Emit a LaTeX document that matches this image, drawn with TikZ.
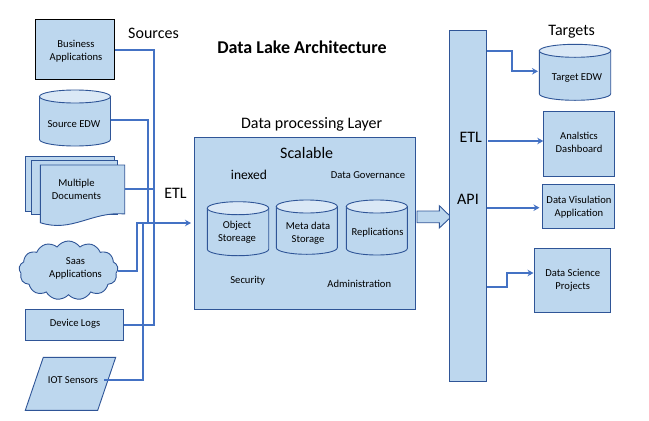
\documentclass[tikz,border=0pt]{standalone}
\usepackage{fontspec}
\setmainfont{Carlito}
\usetikzlibrary{shapes.symbols,arrows.meta}

\definecolor{boxfill}{RGB}{189,215,238}
\definecolor{boxtop}{RGB}{218,232,246}
\definecolor{boxline}{RGB}{47,85,151}
\definecolor{linkblue}{RGB}{68,114,196}

\tikzset{
	plainbox/.style={draw=boxline,fill=boxfill,line width=0.9pt,inner sep=0pt,outer sep=0pt},
	small/.style={font=\fontsize{10.6}{13}\selectfont,align=center,inner sep=0pt,yshift=-0.8pt},
	big/.style={font=\fontsize{16}{18}\selectfont,align=center,inner sep=0pt},
	link/.style={draw=linkblue,line width=2pt},
	linkto/.style={link,-{Stealth[length=6pt,width=6.5pt]}}
}

% left, right, top, bottom
\newcommand{\drawdrum}[4]{
	\pgfmathsetmacro{\drumrx}{(#2-#1)/2}
	\draw[plainbox] (#1,{#3+6.5}) -- (#1,{#4-6.5})
		arc[start angle=180,end angle=360,x radius=\drumrx pt,y radius=6.5pt] -- (#2,{#3+6.5}) -- cycle;
	\draw[plainbox,fill=boxtop] ({(#1+#2)/2},{#3+6.5}) ellipse[x radius=\drumrx pt,y radius=6.5pt];
}

\begin{document}
\begin{tikzpicture}[x=1pt,y=-1pt]
	\useasboundingbox (0,0) rectangle (649,421);
	\fill[white] (0,0) rectangle (649,421);

	\node[big,font=\fontsize{18}{20}\selectfont\bfseries] (title) at (302,47) {Data Lake Architecture};
	\node[big] (sources) at (153.5,33) {Sources};
	\node[big] (etlleft) at (175.5,193) {ETL};
	\node[big] (targets) at (571.7,31.5) {Targets};
	\node[big] (layertitle) at (311.7,124.5) {Data processing Layer};

	% sources
	\node[plainbox,draw=black,minimum width=79pt,minimum height=60pt] (bizapp) at (75,49.5) {};
	\node[small] (bizapptext) at (76,50) {Business\\Applications};

	\drawdrum{39.5}{110.5}{90}{146}
	\node[small] (srcedwtext) at (74,123.5) {Source EDW};

	\draw[plainbox] (25.3,211) |- (114.7,156.3) |- cycle;
	\draw[plainbox] (31,214) |- (117.7,160.3) |- cycle;
	\draw[plainbox] (40.3,222.7) |- (124.7,165) -- (124.7,214)
		.. controls (92,211) and (72,233) .. cycle;
	\node[small] (docstext) at (76.5,189) {Multiple\\Documents};

	\node[plainbox,cloud,cloud puffs=13,cloud puff arc=110,aspect=1.7,cloud ignores aspect,
		minimum width=99pt,minimum height=59pt] (saas) at (68.5,270.5) {};
	\node[small] (saastext) at (75.5,268) {Saas\\Applications};

	\node[plainbox,minimum width=98.4pt,minimum height=31pt] (devlogs) at (74.5,324.8) {};
	\node[small] (devlogstext) at (75,322.7) {Device Logs};

	\draw[plainbox] (43.3,357.3) -- (115.7,357.3) -- (97.7,410.3) -- (25.3,410.3) -- cycle;
	\node[small] (iottext) at (73,379.7) {IOT Sensors};

	\coordinate (docsout) at (124.7,189);
	\coordinate (srcout) at (110.5,120);
	\coordinate (iotout) at (104,379.7);
	\coordinate (busx) at (154,223);
	\coordinate (srcx) at (147.7,223);
	\coordinate (iotx) at (143,223);
	\coordinate (saasx) at (136.7,223);
	\coordinate (layerin) at (191,223);

	\draw[link] (bizapp.east) -| (busx |- devlogs.east) -- (devlogs.east);
	\draw[link] (docsout) -- (docsout -| busx);
	\draw[link] (srcout) -| (srcx);
	\draw[link] (iotout) -| (iotx);
	\draw[linkto] (saas.east) -| (saasx) -- (layerin);

	% data processing layer
	\node[plainbox,minimum width=221pt,minimum height=171.6pt] (layer) at (305,223.5) {};
	\node[big] (scalable) at (306.7,153.3) {Scalable};
	\node[small,font=\fontsize{13.5}{15}\selectfont] (inexed) at (249,174) {inexed};
	\node[small] (governance) at (368,174.5) {Data Governance};

	\drawdrum{207.3}{268.7}{201.7}{255.7}
	\drawdrum{276.3}{337.3}{200}{254.3}
	\drawdrum{346.3}{407.3}{200}{255}
	\node[small] (objtext) at (237,231.5) {Object\\Storeage};
	\node[small] (metatext) at (308,232.2) {Meta data\\Storage};
	\node[small] (replicatext) at (377.5,231.7) {Replications};

	\node[small] (security) at (247.7,279.7) {Security};
	\node[small] (admin) at (359.3,282.7) {Administration};

	\draw[plainbox] (417,211) -- (439.3,211) -- (439.3,205.7) -- (451,217)
		-- (439.3,228) -- (439.3,222.7) -- (417,222.7) -- cycle;

	% etl and api bar
	\node[plainbox,minimum width=37.4pt,minimum height=350.6pt] (bar) at (468,206) {};
	\node[big] (etlright) at (470.7,137) {ETL};
	\node[big] (api) at (468,199) {API};

	% targets
	\drawdrum{539.3}{610.7}{44.3}{100.3}
	\node[small] (tgtedwtext) at (577,77.5) {Target EDW};

	\node[plainbox,minimum width=71.4pt,minimum height=65pt] (dash) at (579,143.8) {};
	\node[small] (dashtext) at (579,141.2) {Analstics\\Dashboard};

	\node[plainbox,minimum width=72.4pt,minimum height=44pt] (visual) at (578.5,206.3) {};
	\node[small] (visualtext) at (579,206.2) {Data Visulation\\Application};

	\node[plainbox,minimum width=76.4pt,minimum height=64pt] (science) at (572.5,280.3) {};
	\node[small] (sciencetext) at (572.7,279.2) {Data Science\\Projects};

	\coordinate (tgtx) at (511.7,51);
	\coordinate (scix) at (506.7,287);
	\coordinate (tgtin) at (538,71.3);
	\coordinate (sciin) at (533.5,273);

	\draw[linkto] (bar.east |- tgtx) -- (tgtx) |- (tgtin);
	\draw[linkto] (488,141) -- (dash.west |- 0,141);
	\draw[linkto] (bar.east |- 0,207.7) -- (539.5,207.7);
	\draw[linkto] (bar.east |- scix) -- (scix) |- (sciin);
\end{tikzpicture}
\end{document}
